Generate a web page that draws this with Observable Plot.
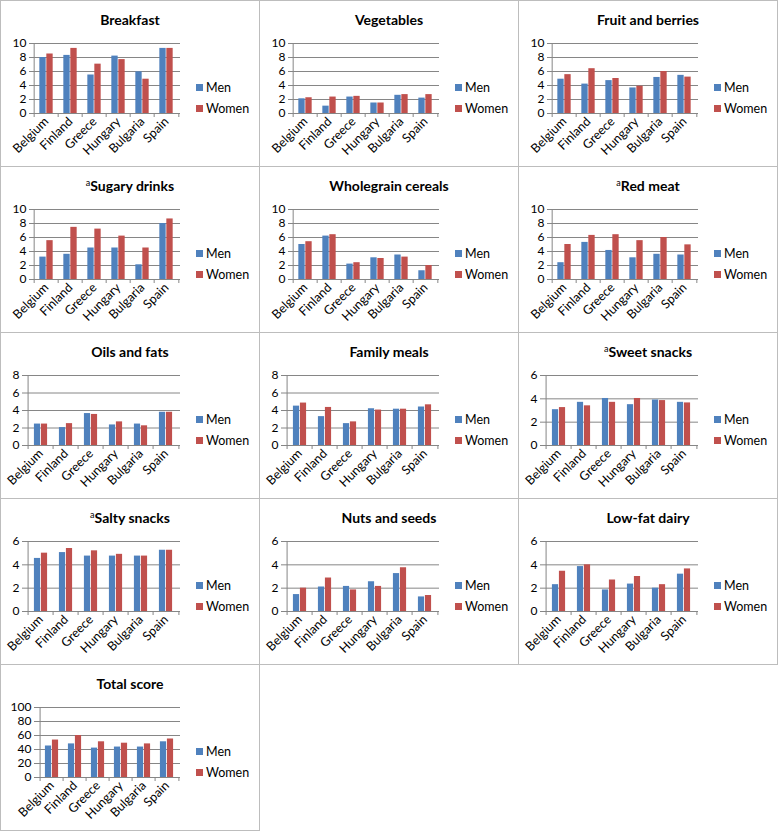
<!DOCTYPE html>
<html>
<head>
<meta charset="utf-8">
<script src="https://cdn.jsdelivr.net/npm/d3@7"></script>
<script src="https://cdn.jsdelivr.net/npm/@observablehq/plot@0.6"></script>
<style>
  body { margin: 0; background: #fff; font-family: Lato, "Liberation Sans", sans-serif; }
  #grid { position: relative; width: 778px; height: 833px; }
  .panel { position: absolute; box-sizing: border-box; width: 260px; height: 167px; border: 1px solid #bdbdbd; background: #fff; overflow: hidden; }
  .panel svg { position: absolute; left: 0; top: 0; }
  .title { position: absolute; left: 0; width: 258px; top: 10px; text-align: center; font-weight: bold; font-size: 14px; color: #000; }
  .title sup { font-size: 9px; font-weight: normal; vertical-align: 5px; }
  .legend { position: absolute; left: 195px; font-size: 12.5px; color: #000; }
  .legend .sw { display: inline-block; width: 7px; height: 7px; margin-right: 3px; vertical-align: 1px; }
</style>
</head>
<body>
<div id="grid"></div>
<script>
const countries = ["Belgium", "Finland", "Greece", "Hungary", "Bulgaria", "Spain"];
const sexes = ["Men", "Women"];
const colors = ["#4F81BD", "#C0504D"];

const breakfastMen   = [8.0, 8.3, 5.5, 8.2, 5.95, 9.3];
const breakfastWomen = [8.5, 9.3, 7.05, 7.7, 4.9, 9.3];
const vegetablesMen   = [2.1, 1.05, 2.35, 1.5, 2.6, 2.2];
const vegetablesWomen = [2.25, 2.35, 2.45, 1.5, 2.7, 2.7];
const fruitMen   = [4.9, 4.2, 4.7, 3.65, 5.15, 5.45];
const fruitWomen = [5.55, 6.4, 5.0, 3.9, 6.0, 5.2];
const sugaryMen   = [3.2, 3.6, 4.5, 4.5, 2.1, 8.0];
const sugaryWomen = [5.55, 7.45, 7.2, 6.2, 4.5, 8.65];
const wholegrainMen   = [5.0, 6.2, 2.2, 3.1, 3.5, 1.25];
const wholegrainWomen = [5.4, 6.4, 2.4, 3.0, 3.2, 2.0];
const redMeatMen   = [2.4, 5.3, 4.15, 3.1, 3.6, 3.5];
const redMeatWomen = [5.0, 6.3, 6.4, 5.55, 6.0, 4.95];
const oilsMen   = [2.45, 2.05, 3.65, 2.35, 2.45, 3.8];
const oilsWomen = [2.45, 2.5, 3.55, 2.7, 2.25, 3.8];
const familyMen   = [4.5, 3.3, 2.5, 4.2, 4.15, 4.4];
const familyWomen = [4.85, 4.35, 2.7, 4.05, 4.15, 4.65];
const sweetMen   = [3.07, 3.7, 4.03, 3.5, 3.9, 3.7];
const sweetWomen = [3.25, 3.4, 3.7, 4.03, 3.85, 3.65];
const saltyMen   = [4.55, 5.05, 4.75, 4.75, 4.75, 5.25];
const saltyWomen = [5.0, 5.4, 5.2, 4.9, 4.75, 5.25];
const nutsMen   = [1.45, 2.1, 2.15, 2.55, 3.25, 1.25];
const nutsWomen = [2.0, 2.87, 1.85, 2.15, 3.75, 1.37];
const dairyMen   = [2.3, 3.85, 1.85, 2.35, 2.0, 3.2];
const dairyWomen = [3.45, 4.0, 2.7, 3.0, 2.3, 3.65];
const totalMen   = [45, 48, 42, 43.5, 43.5, 51];
const totalWomen = [53.5, 60, 51, 49, 48, 55];

const titles = ["Breakfast", "Vegetables", "Fruit and berries", "Sugary drinks", "Wholegrain cereals", "Red meat",
  "Oils and fats", "Family meals", "Sweet snacks", "Salty snacks", "Nuts and seeds", "Low-fat dairy", "Total score"];
const titleNotes = ["", "", "", "a", "", "a", "", "", "a", "a", "", "", ""];
const menSeries = [breakfastMen, vegetablesMen, fruitMen, sugaryMen, wholegrainMen, redMeatMen,
  oilsMen, familyMen, sweetMen, saltyMen, nutsMen, dairyMen, totalMen];
const womenSeries = [breakfastWomen, vegetablesWomen, fruitWomen, sugaryWomen, wholegrainWomen, redMeatWomen,
  oilsWomen, familyWomen, sweetWomen, saltyWomen, nutsWomen, dairyWomen, totalWomen];
const yTicks = [
  [0,2,4,6,8,10],[0,2,4,6,8,10],[0,2,4,6,8,10],[0,2,4,6,8,10],[0,2,4,6,8,10],[0,2,4,6,8,10],
  [0,2,4,6,8],[0,2,4,6,8],[0,2,4,6],[0,2,4,6],[0,2,4,6],[0,2,4,6],
  [0,20,40,60,80,100]
];

const grid = document.getElementById("grid");
const W = 258, H = 165, MR = 79, MT = 42, MB = 53, BARW = 7;
const axisColor = "#868686";

titles.forEach((title, k) => {
  const col = k % 3, row = Math.floor(k / 3);
  const div = document.createElement("div");
  div.className = "panel";
  div.style.left = (col * 259) + "px";
  div.style.top = (row * 166) + "px";

  const ticks = yTicks[k];
  const yMax = ticks[ticks.length - 1];
  const maxLabelLen = String(yMax).length;
  const ML = maxLabelLen === 1 ? 24 : maxLabelLen === 2 ? 31 : 36;
  const bw = (W - ML - MR) / countries.length;
  const outer = (bw - 2 * BARW) / 2;

  const data = countries.flatMap((c, i) => [
    {country: c, sex: "Men", v: menSeries[k][i]},
    {country: c, sex: "Women", v: womenSeries[k][i]}
  ]);

  const chart = Plot.plot({
    width: W, height: H,
    marginLeft: ML, marginRight: MR, marginTop: MT, marginBottom: MB,
    style: {fontFamily: "Lato, 'Liberation Sans', sans-serif", fontSize: "12.5px", color: "#000", background: "transparent"},
    x: {domain: countries, padding: 0, label: null},
    y: {domain: [0, yMax], label: null},
    marks: [
      Plot.ruleY(ticks.filter(t => t > 0), {stroke: axisColor, strokeWidth: 1}),
      Plot.barY(data.filter(d => d.sex === "Men"), {x: "country", y: "v", fill: colors[0], insetLeft: outer, insetRight: outer + BARW}),
      Plot.barY(data.filter(d => d.sex === "Women"), {x: "country", y: "v", fill: colors[1], insetLeft: outer + BARW, insetRight: outer}),
      Plot.ruleY([0], {stroke: axisColor}),
      Plot.ruleX(countries, {x: d => d, y1: 0, y2: 0, dx: -bw / 2, insetBottom: -4, stroke: axisColor}),
      Plot.ruleX([countries[countries.length - 1]], {x: d => d, y1: 0, y2: 0, dx: bw / 2, insetBottom: -4, stroke: axisColor}),
      Plot.ruleX([countries[0]], {x: d => d, y1: 0, y2: yMax, dx: -bw / 2, stroke: axisColor}),
      Plot.axisY({ticks: ticks, tickFormat: d => String(d), tickSize: 3, tickPadding: 3, stroke: axisColor, fontSize: 12, label: null}),
      Plot.axisX({tickRotate: -45, tickSize: 0, tickPadding: 6, label: null, fontSize: 12.5})
    ]
  });
  div.appendChild(chart);

  const t = document.createElement("div");
  t.className = "title";
  if (titleNotes[k]) {
    const s = document.createElement("sup");
    s.textContent = titleNotes[k];
    t.appendChild(s);
  }
  t.appendChild(document.createTextNode(title));
  div.appendChild(t);

  sexes.forEach((s, j) => {
    const lg = document.createElement("div");
    lg.className = "legend";
    lg.style.top = (j === 0 ? 79 : 100) + "px";
    const sw = document.createElement("span");
    sw.className = "sw";
    sw.style.background = colors[j];
    lg.appendChild(sw);
    lg.appendChild(document.createTextNode(s));
    div.appendChild(lg);
  });

  grid.appendChild(div);
});
</script>
</body>
</html>
